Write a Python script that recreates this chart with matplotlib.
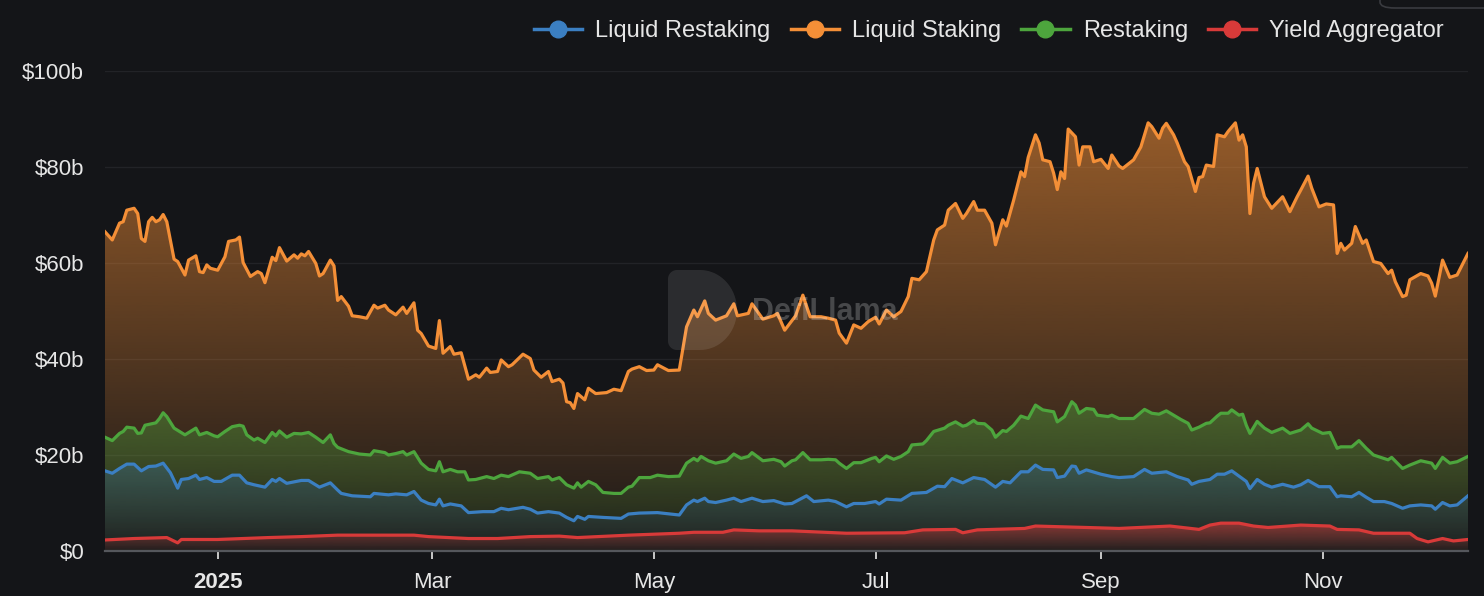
import numpy as np
import matplotlib
matplotlib.use("Agg")
import matplotlib.pyplot as plt
import matplotlib.dates as mdates
from matplotlib.colors import to_rgb
from matplotlib.lines import Line2D
from matplotlib.path import Path
from matplotlib.patches import PathPatch, FancyBboxPatch

plt.rcParams['font.family'] = ['Liberation Sans', 'DejaVu Sans']

# ---------------- data (day offset from 2024-12-01, value in $b) ----------------
START = np.datetime64('2024-12-01')
END_DAY = 375

liquid_staking = [
    (0, 66.5), (2, 64.8), (4, 68.3), (5, 68.6), (6, 71.0), (8, 71.4), (9, 70.3), (10, 65.1), (11, 64.5),
    (12, 68.6), (13, 69.5), (14, 68.6), (15, 69.0), (16, 70.1), (17, 68.6), (19, 60.8), (20, 60.3),
    (22, 57.5), (23, 60.6), (25, 61.5), (26, 58.2), (27, 58.0), (28, 59.6), (29, 58.9), (31, 58.5),
    (33, 61.3), (34, 64.5), (36, 64.8), (37, 65.4), (38, 60.1), (40, 57.2), (42, 58.2), (43, 57.8),
    (44, 55.9), (46, 61.2), (47, 60.5), (48, 63.2), (50, 60.4), (52, 61.7), (53, 61.0), (54, 61.9),
    (55, 61.5), (56, 62.4), (58, 59.9), (59, 57.3), (60, 57.8), (62, 60.6), (63, 59.4), (64, 52.2),
    (65, 53.0), (67, 51.0), (68, 49.0), (70, 48.8), (72, 48.5), (74, 51.2), (75, 50.6), (77, 51.2),
    (78, 50.2), (80, 49.2), (82, 50.8), (83, 49.5), (85, 51.7), (86, 46.0), (87, 45.3), (89, 42.7),
    (91, 42.2), (92, 48.0), (93, 41.2), (95, 42.6), (96, 41.0), (98, 41.3), (100, 35.8), (102, 36.7),
    (103, 36.2), (105, 38.1), (106, 37.2), (108, 37.4), (109, 39.8), (111, 38.4), (112, 38.8),
    (115, 41.0), (117, 40.1), (118, 37.7), (120, 36.2), (122, 37.4), (123, 35.3), (125, 35.8),
    (126, 35.0), (127, 31.1), (128, 30.9), (129, 29.7), (130, 32.8), (132, 31.5), (133, 33.9),
    (135, 32.8), (138, 33.0), (140, 33.7), (142, 33.4), (144, 37.4), (145, 37.9), (147, 38.4),
    (149, 37.6), (151, 37.7), (152, 38.8), (155, 37.6), (158, 37.7), (160, 46.7), (162, 50.2),
    (163, 48.8), (165, 52.1), (166, 49.5), (168, 48.1), (171, 49.0), (173, 51.5), (174, 49.0),
    (177, 49.5), (178, 51.5), (181, 48.3), (184, 49.0), (185, 49.5), (187, 46.0), (190, 49.0),
    (192, 53.3), (194, 48.8), (197, 48.8), (199, 48.5), (201, 48.1), (202, 45.4), (204, 43.3),
    (206, 47.1), (208, 46.4), (210, 47.8), (212, 48.7), (213, 47.3), (215, 50.2), (217, 48.8),
    (219, 49.9), (221, 53.0), (222, 56.8), (224, 56.5), (226, 58.2), (228, 64.8), (229, 66.9),
    (231, 67.9), (232, 71.0), (234, 72.4), (236, 69.3), (237, 70.3), (239, 72.8), (240, 71.0),
    (242, 71.0), (244, 68.3), (245, 63.8), (247, 69.0), (248, 67.7), (250, 73.1), (252, 79.0),
    (253, 78.0), (254, 82.0), (256, 86.7), (257, 85.0), (258, 81.5), (260, 81.1), (261, 78.7),
    (262, 75.3), (263, 79.0), (264, 77.6), (265, 87.9), (267, 86.3), (268, 80.4), (269, 84.2),
    (271, 84.2), (272, 81.1), (274, 81.6), (276, 79.7), (277, 82.5), (279, 80.2), (280, 79.7),
    (283, 81.5), (285, 84.2), (287, 89.2), (288, 88.4), (290, 86.0), (291, 88.1), (292, 89.1),
    (294, 86.7), (295, 85.0), (297, 81.1), (298, 80.1), (300, 74.9), (301, 77.8), (302, 78.0),
    (303, 80.4), (305, 80.1), (306, 86.7), (308, 86.3), (309, 87.4), (311, 89.2), (312, 85.6),
    (313, 86.7), (314, 84.2), (315, 70.3), (316, 76.6), (317, 79.7), (319, 73.8), (321, 71.4),
    (324, 73.8), (326, 70.7), (328, 73.8), (329, 75.2), (331, 78.1), (332, 75.6), (334, 71.7),
    (336, 72.3), (338, 72.1), (339, 62.0), (340, 64.1), (341, 62.7), (343, 64.1), (344, 67.6),
    (346, 64.1), (347, 64.8), (349, 60.3), (351, 59.9), (353, 57.8), (354, 58.5), (355, 56.1),
    (357, 53.0), (358, 53.3), (359, 56.5), (362, 57.8), (364, 57.3), (365, 55.8), (366, 53.1),
    (368, 60.6), (370, 57.0), (372, 57.5), (375, 62.0),
]

restaking = [
    (0, 23.7), (2, 23.0), (4, 24.5), (5, 24.9), (6, 25.8), (8, 25.6), (9, 24.5), (10, 24.6), (11, 26.2),
    (14, 26.7), (15, 27.6), (16, 28.8), (17, 28.0), (19, 25.6), (22, 24.2), (25, 25.6), (26, 24.2),
    (28, 24.7), (30, 24.0), (31, 23.8), (33, 24.9), (35, 25.9), (37, 26.2), (38, 26.0), (39, 24.2),
    (41, 23.1), (42, 23.5), (44, 22.6), (46, 24.7), (47, 24.0), (48, 25.0), (50, 23.7), (52, 24.5),
    (54, 24.4), (56, 24.7), (58, 23.7), (60, 22.6), (62, 24.2), (63, 22.4), (64, 21.6), (67, 20.7),
    (70, 20.2), (73, 20.0), (74, 20.9), (77, 20.5), (78, 20.0), (80, 20.3), (82, 20.7), (83, 20.0),
    (85, 20.7), (87, 18.3), (89, 17.0), (91, 16.7), (92, 18.6), (93, 16.5), (95, 17.0), (97, 16.5),
    (99, 16.5), (100, 14.8), (102, 14.9), (105, 15.5), (107, 15.1), (109, 15.8), (111, 15.5),
    (114, 16.5), (117, 16.2), (119, 15.1), (122, 15.5), (123, 14.8), (125, 15.3), (127, 13.8),
    (129, 13.1), (130, 14.2), (131, 13.3), (133, 14.5), (135, 13.8), (137, 12.2), (140, 12.0),
    (142, 12.0), (144, 13.3), (145, 13.5), (147, 15.3), (150, 15.3), (152, 15.8), (155, 15.5),
    (158, 15.6), (160, 18.3), (162, 19.3), (163, 18.8), (164, 19.7), (166, 18.8), (168, 18.3),
    (171, 18.8), (173, 20.2), (175, 19.3), (177, 19.7), (178, 20.5), (181, 18.8), (184, 19.1),
    (186, 18.6), (187, 17.7), (189, 18.8), (190, 19.0), (192, 20.5), (194, 19.0), (197, 19.0),
    (199, 19.1), (201, 19.0), (202, 18.3), (204, 17.2), (206, 18.4), (208, 18.4), (211, 19.3),
    (212, 19.5), (213, 18.6), (215, 19.8), (217, 19.1), (219, 19.7), (221, 20.7), (222, 22.1),
    (225, 22.3), (226, 23.0), (228, 24.9), (231, 25.6), (232, 26.2), (234, 26.9), (236, 26.0),
    (237, 26.2), (239, 27.2), (240, 26.6), (242, 26.5), (244, 25.2), (245, 23.7), (247, 25.1),
    (248, 24.9), (250, 26.2), (252, 28.1), (254, 27.6), (256, 30.4), (258, 29.4), (261, 29.0),
    (262, 26.9), (264, 28.0), (266, 31.1), (267, 30.4), (268, 28.7), (270, 29.7), (272, 29.5),
    (273, 28.3), (276, 28.0), (277, 28.3), (279, 27.6), (283, 27.6), (286, 29.5), (288, 28.7),
    (290, 28.5), (292, 29.2), (294, 28.3), (296, 27.4), (298, 26.6), (299, 25.2), (301, 25.8),
    (303, 26.6), (304, 26.7), (306, 28.1), (307, 28.7), (309, 28.7), (310, 29.4), (312, 28.3),
    (313, 28.5), (314, 26.2), (315, 24.5), (317, 27.0), (319, 25.6), (321, 24.7), (324, 25.6),
    (326, 24.5), (329, 25.2), (331, 26.5), (332, 25.6), (335, 24.5), (337, 24.7), (339, 21.4),
    (340, 21.7), (343, 21.7), (345, 23.0), (347, 21.4), (349, 20.0), (351, 19.5), (353, 19.0),
    (354, 19.5), (357, 17.2), (359, 17.9), (362, 18.8), (365, 18.3), (366, 17.2), (368, 19.5),
    (370, 18.3), (372, 18.6), (375, 19.7),
]

liquid_restaking = [
    (0, 16.7), (2, 16.2), (4, 17.2), (6, 18.1), (8, 18.1), (10, 16.7), (12, 17.6), (14, 17.7),
    (16, 18.3), (18, 16.3), (20, 13.1), (21, 14.9), (23, 15.1), (25, 15.8), (26, 14.9), (28, 15.3),
    (30, 14.5), (32, 14.5), (35, 15.8), (37, 15.8), (39, 14.2), (41, 13.8), (44, 13.3), (46, 14.9),
    (47, 14.5), (48, 15.1), (50, 14.1), (54, 14.7), (56, 14.7), (59, 13.3), (62, 14.2), (64, 12.7),
    (65, 12.0), (68, 11.5), (73, 11.3), (74, 12.0), (78, 11.7), (80, 11.9), (83, 11.7), (85, 12.4),
    (87, 10.6), (89, 9.9), (91, 9.6), (92, 10.8), (93, 9.4), (95, 9.8), (98, 9.4), (100, 8.0),
    (104, 8.2), (107, 8.2), (109, 8.9), (111, 8.6), (115, 9.1), (117, 8.7), (119, 7.9), (122, 8.2),
    (125, 7.9), (127, 7.0), (129, 6.3), (130, 7.2), (132, 6.6), (133, 7.2), (137, 7.0), (142, 6.8),
    (144, 7.7), (147, 7.9), (152, 8.0), (158, 7.5), (160, 9.6), (162, 10.6), (163, 10.3), (165, 11.0),
    (166, 10.3), (168, 10.1), (171, 10.6), (173, 11.0), (175, 10.3), (178, 11.0), (181, 10.3),
    (184, 10.5), (187, 9.8), (189, 9.9), (190, 10.3), (193, 11.5), (195, 10.3), (199, 10.6),
    (201, 10.3), (204, 9.2), (206, 9.9), (209, 9.9), (212, 10.3), (213, 9.8), (215, 10.8),
    (219, 10.6), (222, 12.0), (226, 12.2), (229, 13.5), (231, 13.4), (233, 15.1), (236, 14.2),
    (239, 15.3), (242, 14.9), (245, 13.3), (247, 14.5), (249, 14.2), (252, 16.5), (254, 16.5),
    (256, 17.9), (258, 17.0), (261, 16.9), (262, 15.3), (264, 15.6), (266, 17.7), (267, 17.6),
    (268, 16.2), (270, 16.9), (274, 16.0), (277, 15.5), (279, 15.3), (283, 15.5), (286, 17.0),
    (288, 16.2), (292, 16.5), (295, 15.5), (298, 14.8), (299, 13.9), (301, 14.5), (304, 14.9),
    (306, 16.0), (308, 16.0), (310, 16.7), (312, 15.6), (314, 14.5), (315, 13.0), (317, 14.9),
    (319, 13.9), (321, 13.3), (324, 13.9), (327, 13.3), (329, 13.8), (331, 14.7), (334, 13.4),
    (337, 13.4), (339, 11.3), (340, 11.5), (343, 11.3), (345, 12.2), (347, 11.2), (349, 10.3),
    (352, 10.3), (354, 9.9), (357, 8.9), (359, 9.4), (362, 9.6), (365, 9.4), (366, 8.7),
    (368, 10.1), (370, 9.4), (372, 9.6), (375, 11.5),
]

yield_aggregator = [
    (0, 2.3), (8, 2.6), (17, 2.8), (20, 1.7), (21, 2.4), (31, 2.4), (45, 2.8), (54, 3.0), (64, 3.3),
    (85, 3.3), (89, 3.0), (100, 2.6), (108, 2.6), (117, 3.0), (125, 3.1), (130, 2.8), (144, 3.3),
    (158, 3.7), (162, 3.9), (170, 3.9), (173, 4.4), (180, 4.2), (189, 4.2), (204, 3.7), (220, 3.8),
    (225, 4.4), (234, 4.5), (236, 3.8), (240, 4.4), (253, 4.7), (256, 5.2), (270, 4.9), (279, 4.7),
    (293, 5.2), (301, 4.5), (304, 5.4), (307, 5.8), (312, 5.8), (316, 5.2), (320, 4.9), (329, 5.4),
    (337, 5.2), (339, 4.5), (345, 4.4), (349, 3.7), (359, 3.7), (361, 2.6), (364, 1.9), (368, 2.6),
    (371, 2.1), (375, 2.4),
]

legend_names = ['Liquid Restaking', 'Liquid Staking', 'Restaking', 'Yield Aggregator']
y_ticks = [0, 20, 40, 60, 80, 100]
y_tick_labels = ['$0', '$20b', '$40b', '$60b', '$80b', '$100b']
x_tick_dates = ['2025-01-01', '2025-03-01', '2025-05-01', '2025-07-01', '2025-09-01', '2025-11-01']
x_tick_labels = ['2025', 'Mar', 'May', 'Jul', 'Sep', 'Nov']

# ---------------- style ----------------
BG = '#141518'
C_BLUE = '#3b7fc2'
C_ORANGE = '#f48f37'
C_GREEN = '#4da53d'
C_RED = '#d83a39'
TXT = '#e6e6e6'

W, H = 1484, 596
fig = plt.figure(figsize=(W / 100, H / 100), dpi=100, facecolor=BG)
ax = fig.add_axes([105 / W, 45 / H, 1363 / W, 480 / H])
ax.set_facecolor(BG)


def to_num(days):
    return mdates.date2num(START + np.array(days, dtype='timedelta64[D]'))


def draw_series(data, color, a_top, z):
    days, vals = zip(*data)
    x = to_num(days)
    y = np.array(vals)
    ymax = y.max()
    verts = [(x[0], 0)] + list(zip(x, y)) + [(x[-1], 0), (x[0], 0)]
    patch = PathPatch(Path(verts), transform=ax.transData, facecolor='none', edgecolor='none')
    ax.add_patch(patch)
    n = 256
    rgba = np.zeros((n, 1, 4))
    rgba[:, :, :3] = to_rgb(color)
    rgba[:, 0, 3] = np.linspace(0.03, a_top, n)
    im = ax.imshow(rgba, extent=[x[0], x[-1], 0, ymax], origin='lower', aspect='auto',
                   zorder=z, interpolation='bilinear')
    im.set_clip_path(patch)
    ax.plot(x, y, color=color, lw=2.3, zorder=z + 0.5, solid_joinstyle='round')


draw_series(liquid_staking, C_ORANGE, 0.58, 2)
draw_series(restaking, C_GREEN, 0.45, 3)
draw_series(liquid_restaking, C_BLUE, 0.28, 4)
draw_series(yield_aggregator, C_RED, 0.55, 5)

ax.set_xlim(to_num([0])[0], to_num([END_DAY])[0])
ax.set_ylim(0, 100)

# grid and axes
ax.set_yticks(y_ticks)
ax.set_yticklabels(y_tick_labels)
ax.yaxis.grid(True, color='#222327', lw=1.0, zorder=0)
ax.set_axisbelow(True)
for s in ['left', 'right', 'top']:
    ax.spines[s].set_visible(False)
ax.spines['bottom'].set_color('#55575c')
ax.spines['bottom'].set_linewidth(1.6)
ax.spines['bottom'].set_zorder(10)
ax.tick_params(axis='y', length=0, pad=15, labelsize=16, labelcolor=TXT)

ax.set_xticks(mdates.date2num(np.array(x_tick_dates, dtype='datetime64[D]')))
ax.set_xticklabels(x_tick_labels)
ax.tick_params(axis='x', length=6, width=1.4, color='#c8c8c8', pad=9, labelsize=16, labelcolor=TXT)
ax.get_xticklabels()[0].set_fontweight('bold')

# watermark: "D" shaped logo + wordmark
def px(xp, yp):
    return (xp / W, 1 - yp / H)

r = 9
left, top, bottom, cx = 668, 270, 350, 700
theta = np.linspace(np.pi / 2, -np.pi / 2, 40)
d_pts = [px(left + r, top), px(cx, top)]
d_pts += [px(cx + 37 * np.cos(t), 310 - 40 * np.sin(t)) for t in theta]
d_pts += [px(left + r, bottom)]
d_pts += [px(left + r - r * np.sin(t), bottom - r + r * np.cos(t)) for t in np.linspace(0, np.pi / 2, 8)]
d_pts += [px(left + r - r * np.cos(t), top + r - r * np.sin(t)) for t in np.linspace(0, np.pi / 2, 8)]
d_pts.append(d_pts[0])
fig.patches.append(PathPatch(Path(d_pts), transform=fig.transFigure, facecolor='#ffffff',
                             alpha=0.10, edgecolor='none', zorder=6))
fig.text(752 / W, 284 / H, 'DefiLlama', fontsize=22, fontweight='bold', color='#ffffff',
         alpha=0.22, va='center', ha='left', zorder=6)

# top-right UI box edge
fig.patches.append(FancyBboxPatch((1380 / W, 588 / H), 140 / W, 30 / H,
                                  boxstyle='round,pad=0,rounding_size=0.01',
                                  transform=fig.transFigure, facecolor='none',
                                  edgecolor='#3a3b40', lw=1.2))

# legend
handles = [Line2D([0], [0], color=c, lw=2.5, marker='o', markersize=12)
           for c in [C_BLUE, C_ORANGE, C_GREEN, C_RED]]
leg = fig.legend(handles, legend_names, loc='center right', bbox_to_anchor=(1444 / W, 1 - 31 / H),
                 ncol=4, frameon=False, fontsize=17, handlelength=2.05, handletextpad=0.55,
                 columnspacing=0.85, borderpad=0, borderaxespad=0)
for t in leg.get_texts():
    t.set_color(TXT)

fig.savefig('out.png', dpi=100, facecolor=BG)
